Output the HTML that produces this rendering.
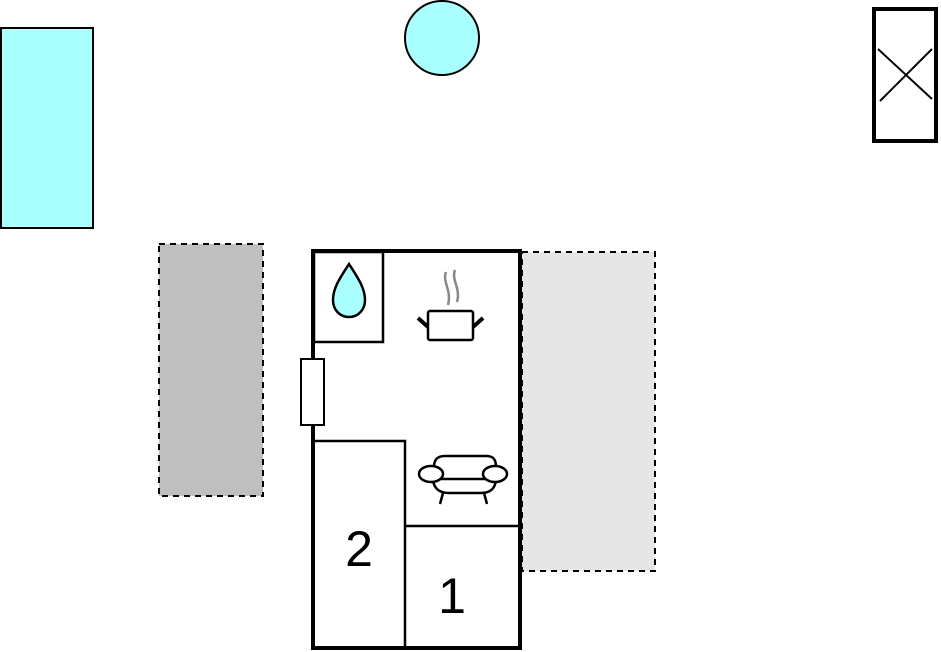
<!DOCTYPE html>
<html><head><style>html,body{margin:0;padding:0;background:#fff}svg{display:block}</style></head>
<body>
<svg width="941" height="652" viewBox="0 0 941 652" xmlns="http://www.w3.org/2000/svg">
<rect x="1" y="28" width="92" height="200" fill="#aaffff" stroke="#000" stroke-width="2"/>
<circle cx="442" cy="38" r="37" fill="#aaffff" stroke="#000" stroke-width="2"/>
<rect x="874" y="9" width="62" height="132" fill="#fff" stroke="#000" stroke-width="4"/>
<line x1="878" y1="49" x2="932" y2="99" stroke="#000" stroke-width="2"/>
<line x1="932" y1="49" x2="880" y2="101" stroke="#000" stroke-width="2"/>
<rect x="159" y="244" width="104" height="252" fill="#bfbfbf" stroke="#000" stroke-width="2" stroke-dasharray="6,5"/>
<rect x="522" y="252" width="133" height="319" fill="#e6e6e6" stroke="#000" stroke-width="2" stroke-dasharray="6,5"/>
<rect x="313" y="251" width="207" height="397" fill="#fff" stroke="#000" stroke-width="4"/>
<rect x="314" y="252" width="69" height="90" fill="none" stroke="#000" stroke-width="2.5"/>
<path d="M349 264 C340 278 333 288 333 300 C333 310 340 317 349 317 C358 317 365 310 365 300 C365 288 358 278 349 264 Z" fill="#aaffff" stroke="#000" stroke-width="2.5"/>
<rect x="301" y="359" width="23" height="66" fill="#fff" stroke="#000" stroke-width="2"/>
<polyline points="314,441 405,441 405,648" fill="none" stroke="#000" stroke-width="2.5"/>
<line x1="405" y1="526" x2="520" y2="526" stroke="#000" stroke-width="2.5"/>
<path d="M446 272 C442 282 452 290 448 305 M455 270 C451 280 461 288 457 302" fill="none" stroke="#888" stroke-width="2.5"/>
<rect x="428" y="311" width="45" height="29" rx="2" fill="#fff" stroke="#000" stroke-width="2.5"/>
<line x1="418" y1="318" x2="428" y2="327" stroke="#000" stroke-width="4"/>
<line x1="483" y1="318" x2="473" y2="327" stroke="#000" stroke-width="4"/>
<path d="M434 467 C434 459 438 456 445 456 L486 456 C493 456 496 459 496 467 M433 480 C434 489 440 493 449 493 L481 493 C490 493 495 489 496 480 M441 479 L491 479" fill="none" stroke="#000" stroke-width="2.5"/>
<ellipse cx="431" cy="474" rx="12" ry="8" fill="#fff" stroke="#000" stroke-width="2.5"/>
<ellipse cx="495" cy="474" rx="12" ry="8" fill="#fff" stroke="#000" stroke-width="2.5"/>
<line x1="443" y1="493" x2="440" y2="504" stroke="#000" stroke-width="2.5"/>
<line x1="484" y1="493" x2="487" y2="504" stroke="#000" stroke-width="2.5"/>
<text x="359" y="566" font-family="Liberation Sans, sans-serif" font-size="50" text-anchor="middle">2</text>
<text x="452" y="613" font-family="Liberation Sans, sans-serif" font-size="50" text-anchor="middle">1</text>
</svg>
</body></html>
